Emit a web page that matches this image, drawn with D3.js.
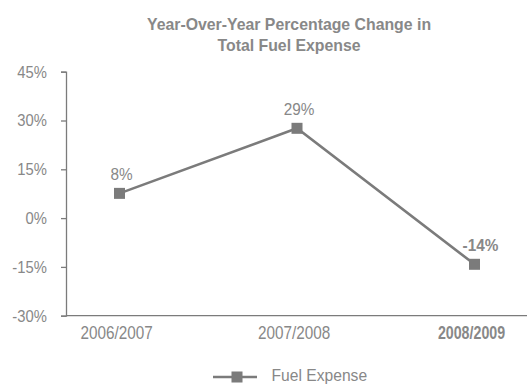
<!DOCTYPE html>
<html lang="en">
<head>
<meta charset="utf-8">
<title>Fuel expense YoY</title>
<script src="https://d3js.org/d3.v7.min.js"></script>
<style>
  body { margin: 0; background: #fff; }
  text { font-family: "Liberation Sans", Arial, sans-serif; }
</style>
</head>
<body>
<script>
// data
var periods = ["2006/2007", "2007/2008", "2008/2009"];
var fuelChange = [7.6, 27.6, -14.2];
var pointLabels = ["8%", "29%", "-14%"];
var yTicks = [-30, -15, 0, 15, 30, 45];
var title = ["Year-Over-Year Percentage Change in", "Total Fuel Expense"];
var seriesName = "Fuel Expense";

var W = 527, H = 385;
var grey = "#7b7b7b", textGrey = "#888888";

var svg = d3.select("body").append("svg")
  .attr("width", W).attr("height", H);

var x = d3.scalePoint().domain(periods).range([119.5, 474.5]);
var y = d3.scaleLinear().domain([-30, 45]).range([315.7, 71.7]);

// no narrow font installed, so squeeze text horizontally
function narrow(sx) {
  return function(d, i) {
    var t = d3.select(this);
    return "translate(" + t.attr("x") + "," + t.attr("y") + ") scale(" + sx + ",1)";
  };
}

// title
svg.append("g").selectAll("text")
  .data(title).enter().append("text")
  .attr("x", 289).attr("y", function(d, i) { return 29.5 + i * 21.5; })
  .attr("text-anchor", "middle")
  .attr("font-size", "16.5px").attr("font-weight", "bold")
  .attr("fill", textGrey)
  .text(function(d) { return d; })
  .attr("transform", narrow(0.96)).attr("x", 0).attr("y", 0);

// y axis
var yAxis = svg.append("g")
  .attr("transform", "translate(66,0)")
  .call(d3.axisLeft(y).tickValues(yTicks).tickSize(5).tickPadding(17)
    .tickFormat(function(d) { return d + "%"; }));
yAxis.select(".domain").attr("stroke", grey).attr("stroke-width", 1.3);
yAxis.selectAll(".tick line").attr("stroke", grey).attr("stroke-width", 1.3);
yAxis.selectAll(".tick text")
  .attr("fill", textGrey).attr("font-size", "17px")
  .attr("font-family", "Liberation Sans, sans-serif")
  .attr("transform", "scale(0.87,1)");

// x axis line
svg.append("line")
  .attr("x1", 66).attr("x2", W)
  .attr("y1", y(-30)).attr("y2", y(-30))
  .attr("stroke", grey).attr("stroke-width", 1.3);

// x labels
svg.append("g").selectAll("text")
  .data(periods).enter().append("text")
  .attr("x", function(d) { return x(d) - 3; })
  .attr("y", 339)
  .attr("text-anchor", "middle")
  .attr("font-size", "18px")
  .attr("font-weight", function(d, i) { return i == periods.length - 1 ? "bold" : "normal"; })
  .attr("fill", textGrey)
  .text(function(d) { return d; })
  .attr("transform", function(d, i) {
    var t = d3.select(this);
    var sx = i == periods.length - 1 ? 0.79 : 0.85;
    return "translate(" + t.attr("x") + "," + t.attr("y") + ") scale(" + sx + ",1)";
  }).attr("x", 0).attr("y", 0);

// line
var pts = periods.map(function(p, i) { return [x(p), y(fuelChange[i])]; });
svg.append("path")
  .attr("d", d3.line()(pts))
  .attr("fill", "none").attr("stroke", grey).attr("stroke-width", 2.6);

svg.append("g").selectAll("rect")
  .data(pts).enter().append("rect")
  .attr("x", function(d) { return d[0] - 5.5; })
  .attr("y", function(d) { return d[1] - 5.5; })
  .attr("width", 11).attr("height", 11)
  .attr("fill", grey);

// point labels
svg.append("g").selectAll("text")
  .data(pts).enter().append("text")
  .attr("x", function(d, i) { return i == 2 ? d[0] + 6 : d[0] + 2; })
  .attr("y", function(d) { return d[1] - 13; })
  .attr("text-anchor", "middle")
  .attr("font-size", "16.5px")
  .attr("font-weight", function(d, i) { return i == 2 ? "bold" : "normal"; })
  .attr("fill", textGrey)
  .text(function(d, i) { return pointLabels[i]; })
  .attr("transform", narrow(0.93)).attr("x", 0).attr("y", 0);

// legend
var lg = svg.append("g").attr("transform", "translate(213,377)");
lg.append("line").attr("x1", 0).attr("x2", 44)
  .attr("stroke", grey).attr("stroke-width", 2.6);
lg.append("rect").attr("x", 18.5).attr("y", -5.5)
  .attr("width", 11).attr("height", 11).attr("fill", grey);
lg.append("text").attr("x", 58.5).attr("y", 4)
  .attr("font-size", "17px").attr("fill", textGrey)
  .text(seriesName)
  .attr("transform", narrow(0.92)).attr("x", 0).attr("y", 0);
</script>
</body>
</html>
